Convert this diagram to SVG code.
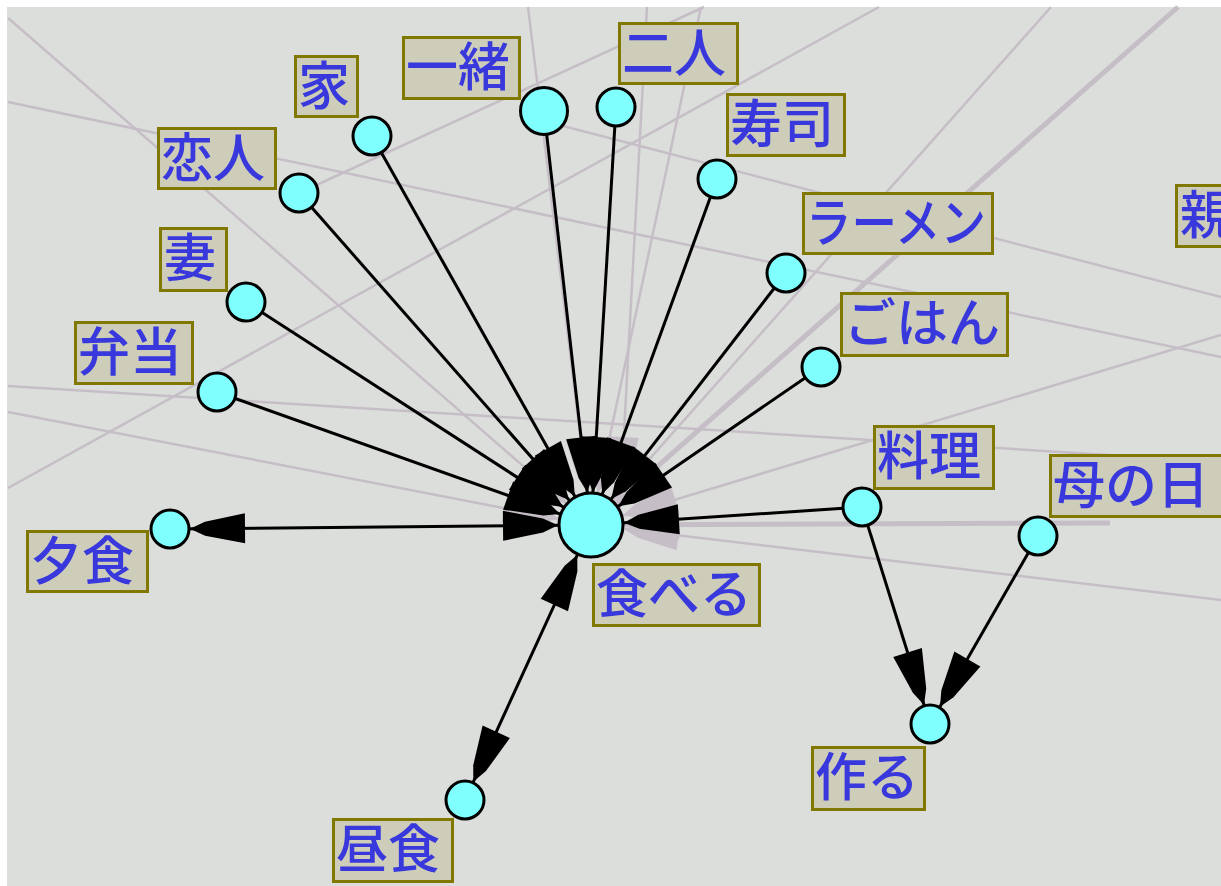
<svg xmlns="http://www.w3.org/2000/svg" width="1221" height="886" viewBox="0 0 1221 886">
<style>
.bg{fill:#dcdedb}
.g{stroke:#c6bec6;stroke-width:2.5;fill:none}
.gt{stroke:#c6bec6;stroke-width:5;fill:none}
.e{stroke:#000;stroke-width:3;fill:none}
.n{fill:#80ffff;stroke:#000;stroke-width:3}
.b{fill:#cdcdb9;stroke:#807800;stroke-width:3}
.t{fill:#3838dc;font-family:"Noto Sans CJK JP","Noto Sans CJK SC",sans-serif;font-size:52px;font-weight:500}
</style>
<defs>
<marker id="ahH" markerUnits="userSpaceOnUse" viewBox="-60 -20 100 40" markerWidth="100" markerHeight="40" refX="33" refY="0" orient="auto-start-reverse" overflow="visible"><path d="M0,0 L-15,-7 L-55,-15 L-55,15 L-15,7 Z" fill="#000"/></marker>
<marker id="ahS" markerUnits="userSpaceOnUse" viewBox="-60 -20 100 40" markerWidth="100" markerHeight="40" refX="20" refY="0" orient="auto-start-reverse" overflow="visible"><path d="M0,0 L-15,-7 L-55,-15 L-55,15 L-15,7 Z" fill="#000"/></marker>
<marker id="gH" markerUnits="userSpaceOnUse" viewBox="-60 -20 100 40" markerWidth="100" markerHeight="40" refX="33" refY="0" orient="auto-start-reverse" overflow="visible"><path d="M0,0 L-15,-7 L-55,-15 L-55,15 L-15,7 Z" fill="#c6bec6"/></marker>
</defs>
<rect x="0" y="0" width="1221" height="886" fill="#ffffff"/>
<rect class="bg" x="7" y="7" width="1214" height="879"/>
<g id="background-edges">
<path class="g" d="M8,102 L1221,357"/>
<path class="g" d="M8,386 L1221,462"/>
<path class="g" d="M8,488 L879,7"/>
<path class="g" d="M299,193 L704,7"/>
<path class="g" d="M540,120 L1221,297"/>
<path class="g" d="M8,18 L591,525" marker-end="url(#gH)"/>
<path class="g" d="M8,412 L591,525" marker-end="url(#gH)"/>
<path class="g" d="M528,7 L591,525" marker-end="url(#gH)"/>
<path class="g" d="M647,7 L619,525" marker-end="url(#gH)"/>
<path class="g" d="M701,7 L591,525" marker-end="url(#gH)"/>
<path class="g" d="M1051,7 L591,525" marker-end="url(#gH)"/>
<path class="gt" d="M1178,7 L591,525" marker-end="url(#gH)"/>
<path class="gt" d="M1110,523 L591,525" marker-end="url(#gH)"/>
<path class="g" d="M1221,335 L591,525" marker-end="url(#gH)"/>
<path class="g" d="M1221,600 L591,525" marker-end="url(#gH)"/>
</g>
<g id="connectors">
<path class="e" d="M372,136 L591,525" marker-end="url(#ahH)"/>
<path class="e" d="M544,111 L591,525" marker-end="url(#ahH)"/>
<path class="e" d="M616,107 L591,525" marker-end="url(#ahH)"/>
<path class="e" d="M717,179 L591,525" marker-end="url(#ahH)"/>
<path class="e" d="M299,193 L591,525" marker-end="url(#ahH)"/>
<path class="e" d="M786,273 L591,525" marker-end="url(#ahH)"/>
<path class="e" d="M246,302 L591,525" marker-end="url(#ahH)"/>
<path class="e" d="M821,367 L591,525" marker-end="url(#ahH)"/>
<path class="e" d="M217,392 L591,525" marker-end="url(#ahH)"/>
<path class="e" d="M862,507 L591,525" marker-end="url(#ahH)"/>
<path class="e" d="M170,529 L591,525" marker-start="url(#ahS)" marker-end="url(#ahH)"/>
<path class="e" d="M465,800 L591,525" marker-start="url(#ahS)" marker-end="url(#ahH)"/>
<path class="e" d="M862,507 L930,724" marker-end="url(#ahS)"/>
<path class="e" d="M1038,536 L930,724" marker-end="url(#ahS)"/>
</g>
<g id="node-taberu"><circle class="n" cx="591" cy="525" r="32"/><rect class="b" x="593.5" y="564.5" width="166" height="61"/><text class="t" x="596" y="613">食べる</text></g>
<g id="node-issho"><circle class="n" cx="544" cy="111" r="23.5"/><rect class="b" x="403.5" y="37.5" width="116" height="61"/><text class="t" x="406" y="86">一緒</text></g>
<g id="node-ie"><circle class="n" cx="372" cy="136" r="19"/><rect class="b" x="295.5" y="56.5" width="62" height="60"/><text class="t" x="298" y="105">家</text></g>
<g id="node-futari"><circle class="n" cx="616" cy="107" r="19"/><rect class="b" x="619.5" y="23.5" width="118" height="60"/><text class="t" x="622" y="72">二人</text></g>
<g id="node-sushi"><circle class="n" cx="717" cy="179" r="19"/><rect class="b" x="727.5" y="94.5" width="117" height="61"/><text class="t" x="730" y="143">寿司</text></g>
<g id="node-koibito"><circle class="n" cx="299" cy="193" r="19"/><rect class="b" x="158.5" y="128.5" width="117" height="60"/><text class="t" x="161" y="177">恋人</text></g>
<g id="node-ramen"><circle class="n" cx="786" cy="273" r="19"/><rect class="b" x="803.5" y="193.5" width="189" height="60"/><text class="t" x="806" y="242" textLength="180" lengthAdjust="spacingAndGlyphs">ラーメン</text></g>
<g id="node-tsuma"><circle class="n" cx="246" cy="302" r="19"/><rect class="b" x="160.5" y="228.5" width="66" height="62"/><text class="t" x="164" y="277">妻</text></g>
<g id="node-oya"><rect class="b" x="1176.5" y="185.5" width="67" height="61"/><text class="t" x="1180" y="234">親</text></g>
<g id="node-gohan"><circle class="n" cx="821" cy="367" r="19"/><rect class="b" x="841.5" y="293.5" width="166" height="62"/><text class="t" x="844" y="342">ごはん</text></g>
<g id="node-bento"><circle class="n" cx="217" cy="392" r="19"/><rect class="b" x="75.5" y="322.5" width="117" height="61"/><text class="t" x="78" y="371">弁当</text></g>
<g id="node-ryori"><circle class="n" cx="862" cy="507" r="19"/><rect class="b" x="874.5" y="426.5" width="119" height="62"/><text class="t" x="877" y="475">料理</text></g>
<g id="node-hahanohi"><circle class="n" cx="1038" cy="536" r="19"/><rect class="b" x="1050.5" y="455.5" width="182" height="61"/><text class="t" x="1053" y="504">母の日</text></g>
<g id="node-yushoku"><circle class="n" cx="170" cy="529" r="19"/><rect class="b" x="27.5" y="531.5" width="120" height="60"/><text class="t" x="30" y="580">夕食</text></g>
<g id="node-tsukuru"><circle class="n" cx="930" cy="724" r="19"/><rect class="b" x="812.5" y="747.5" width="112" height="62"/><text class="t" x="815" y="796">作る</text></g>
<g id="node-chushoku"><circle class="n" cx="465" cy="800" r="19"/><rect class="b" x="333.5" y="819.5" width="119" height="62"/><text class="t" x="336" y="868">昼食</text></g>
</svg>
